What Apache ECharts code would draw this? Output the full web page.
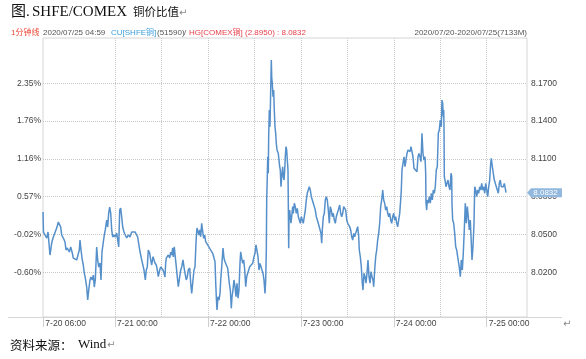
<!DOCTYPE html>
<html><head><meta charset="utf-8">
<script src="https://cdn.jsdelivr.net/npm/echarts@6/dist/echarts.min.js"></script>
<style>html,body{margin:0;padding:0;background:#fff}#c{width:586px;height:359px}</style>
</head><body><div id="c"></div>
<script>
// hours since 2020-07-20 00:00
const hours = [
5.41,5.53,5.92,6.36,6.70,7.21,7.65,8.07,8.50,8.94,9.36,9.61,9.98,10.23,10.65,11.09,11.35,11.68,12.20,12.56,12.97,13.23,13.67,14.11,14.52,14.78,14.96,15.22,15.55,15.81,16.07,16.33,16.69,16.95,17.21,17.54,17.80,18.14,18.40,18.65,18.91,19.27,19.53,19.79,20.13,20.38,20.64,20.98,21.24,21.49,21.86,22.11,22.37,22.63,22.89,23.15,23.41,23.74,24.08,24.44,24.70,24.96,25.21,25.47,25.73,25.99,26.32,26.66,27.02,27.43,27.87,28.31,28.73,
29.17,29.86,30.38,30.79,31.23,31.49,31.83,32.08,32.34,32.60,32.96,33.22,33.48,33.81,34.07,34.33,34.67,34.92,35.18,35.54,35.80,36.06,36.40,36.66,36.91,37.09,37.25,37.51,37.77,38.13,38.38,38.64,38.90,39.06,39.31,39.57,39.83,40.09,40.35,40.71,40.97,41.23,41.56,41.82,42.08,42.41,42.67,42.93,43.29,43.55,43.81,44.14,44.40,44.66,44.84,45.00,45.18,45.44,45.69,45.87,46.13,46.39,46.65,46.91,47.17,47.42,47.68,47.94,48.20,48.46,48.72,48.97,49.23,49.57,49.83,50.01,50.16,50.34,50.60,50.86,51.12,51.30,51.56,51.71,51.89,52.15,52.41,52.74,
53.11,53.52,53.78,54.04,54.22,54.47,54.73,54.99,55.25,55.51,55.77,56.02,56.28,56.46,56.72,56.98,57.24,57.50,57.76,58.01,58.27,58.53,58.79,59.12,59.56,59.90,60.16,60.41,60.67,60.93,61.19,61.45,61.71,61.96,62.22,62.48,62.74,62.92,63.08,63.18,63.33,63.44,63.59,63.69,63.85,64.03,64.21,64.37,64.47,64.62,64.80,64.98,65.14,65.32,65.50,65.66,65.84,66.02,66.17,66.35,66.53,66.69,66.87,67.05,67.31,67.47,67.65,67.83,67.98,68.16,68.34,68.50,68.68,68.76,68.86,68.94,69.12,69.27,69.45,69.63,69.89,70.05,70.31,70.56,70.82,71.08,71.34,71.60,71.86,72.11,72.37,72.63,72.89,73.15,73.41,73.66,73.92,74.18,74.44,74.70,74.96,75.21,75.47,75.73,75.99,76.25,76.50,76.68,
76.94,77.20,77.38,77.54,77.80,78.06,78.31,78.57,78.83,79.09,79.35,79.60,79.86,80.12,80.38,80.64,80.90,81.15,81.41,81.67,82.03,82.29,82.55,82.81,83.06,83.32,83.58,83.84,84.10,84.35,84.61,84.87,85.13,85.39,85.65,85.90,86.16,86.42,86.68,86.94,87.09,87.35,87.61,87.87,88.05,88.31,88.57,88.83,89.08,89.34,89.60,89.86,90.12,90.38,90.63,90.81,91.07,91.33,91.59,91.84,92.10,92.36,92.62,92.88,93.14,93.39,93.65,93.91,94.17,94.43,94.69,94.94,95.20,95.46,95.72,95.98,96.23,96.49,96.75,97.01,97.27,97.53,97.78,97.94,98.12,98.38,98.64,98.90,99.15,99.41,99.67,99.93,100.19,100.44,100.70,
100.96,101.22,101.48,101.73,101.99,102.25,102.51,102.77,103.03,103.28,103.54,103.80,104.06,104.24,104.32,104.50,104.65,104.91,105.17,105.43,105.69,105.95,106.20,106.46,106.72,106.98,107.24,107.50,107.75,108.01,108.27,108.45,108.63,108.79,108.89,108.97,109.05,109.23,109.48,109.74,110.00,110.26,110.52,110.78,110.96,111.03,111.21,111.47,111.73,111.99,112.25,112.50,112.76,113.02,113.18,113.44,113.70,113.95,114.21,114.47,114.73,114.99,115.24,115.50,115.76,116.02,116.20,116.46,116.72,116.90,117.15,117.41,117.67,117.93,118.19,118.45,118.71,118.96,119.22,119.48,119.74,120.00,120.26,120.51,120.77,121.03,121.19,121.45,121.70,121.96,122.22,122.48,122.74,123.00,123.25,123.51,123.77,124.03,124.29,124.55,124.80,124.98
];
// SHFE/COMEX copper price ratio
const ratio = [
8.0678,8.0520,8.0496,8.0472,8.0520,8.0337,8.0432,8.0480,8.0472,8.0551,8.0599,8.0591,8.0559,8.0496,8.0472,8.0440,8.0377,8.0393,8.0361,8.0401,8.0353,8.0313,8.0321,8.0298,8.0313,8.0377,8.0456,8.0377,8.0298,8.0258,8.0194,8.0155,8.0083,7.9980,8.0059,8.0139,8.0163,8.0139,8.0178,8.0083,8.0139,8.0401,8.0298,8.0242,8.0274,8.0139,8.0361,8.0440,8.0496,8.0536,8.0615,8.0559,8.0670,8.0718,8.0670,8.0536,8.0480,8.0496,8.0480,8.0512,8.0456,8.0401,8.0694,8.0710,8.0639,8.0559,8.0520,8.0496,8.0472,8.0496,8.0480,8.0520,8.0512,
8.0520,8.0480,8.0377,8.0313,8.0313,8.0218,8.0139,8.0218,8.0242,8.0377,8.0353,8.0298,8.0258,8.0324,8.0313,8.0274,8.0258,8.0218,8.0165,8.0218,8.0242,8.0234,8.0218,8.0194,8.0163,8.0274,8.0313,8.0321,8.0337,8.0313,8.0361,8.0337,8.0393,8.0321,8.0403,8.0321,8.0244,8.0163,8.0086,8.0163,8.0218,8.0242,8.0298,8.0242,8.0194,8.0139,8.0163,8.0218,8.0234,8.0115,8.0033,8.0139,8.0218,8.0242,8.0377,8.0482,8.0551,8.0522,8.0496,8.0536,8.0482,8.0589,8.0522,8.0469,8.0496,8.0443,8.0456,8.0417,8.0403,8.0390,8.0377,8.0403,8.0351,8.0313,8.0284,8.0115,8.0006,7.9901,8.0006,7.9980,8.0033,8.0139,8.0244,8.0311,8.0393,8.0311,8.0284,8.0271,
8.0232,8.0113,8.0059,7.9914,8.0006,8.0059,8.0139,8.0086,8.0006,8.0113,7.9994,8.0059,8.0271,8.0363,8.0311,8.0271,8.0298,8.0218,8.0086,8.0165,8.0192,8.0218,8.0244,8.0258,8.0271,8.0324,8.0351,8.0417,8.0430,8.0324,8.0218,8.0271,8.0244,8.0218,8.0192,8.0139,8.0033,8.0139,8.0377,8.0774,8.0959,8.1117,8.0986,8.1276,8.1488,8.1355,8.1647,8.1885,8.1752,8.1700,8.1594,8.1647,8.1488,8.1355,8.1303,8.1224,8.1171,8.1171,8.1144,8.1091,8.1038,8.1012,8.0879,8.0959,8.1038,8.0959,8.0932,8.1012,8.1117,8.1197,8.1171,8.1091,8.1012,8.0748,8.0390,8.0615,8.0694,8.0641,8.0589,8.0641,8.0721,8.0668,8.0748,8.0721,8.0668,8.0708,8.0641,8.0615,8.0589,8.0641,8.0615,8.0589,8.0641,8.0694,8.0774,8.0827,8.0853,8.0879,8.0853,8.0800,8.0774,8.0748,8.0721,8.0694,8.0641,8.0615,8.0589,8.0602,
8.0589,8.0509,8.0430,8.0536,8.0641,8.0668,8.0774,8.0800,8.0774,8.0694,8.0589,8.0721,8.0694,8.0641,8.0668,8.0615,8.0589,8.0641,8.0668,8.0694,8.0734,8.0668,8.0641,8.0668,8.0721,8.0734,8.0694,8.0615,8.0589,8.0575,8.0562,8.0536,8.0482,8.0456,8.0509,8.0482,8.0509,8.0536,8.0562,8.0482,8.0377,8.0324,8.0244,8.0113,8.0059,8.0192,8.0165,8.0113,8.0192,8.0298,8.0165,8.0113,8.0205,8.0165,8.0139,8.0086,8.0218,8.0324,8.0377,8.0456,8.0509,8.0589,8.0721,8.0774,8.0853,8.0774,8.0748,8.0694,8.0721,8.0668,8.0641,8.0668,8.0615,8.0589,8.0641,8.0668,8.0615,8.0641,8.0589,8.0562,8.0615,8.0668,8.0774,8.0853,8.1012,8.1065,8.1117,8.1038,8.1091,8.1144,8.1171,8.1184,8.1157,8.1197,8.1210,
8.1117,8.1025,8.1012,8.1025,8.0998,8.1117,8.1144,8.1117,8.1078,8.1303,8.1144,8.1091,8.1117,8.0986,8.0748,8.0694,8.0774,8.0748,8.0800,8.0748,8.0827,8.0774,8.0853,8.0827,8.0879,8.1012,8.1038,8.1303,8.1329,8.1409,8.1355,8.1567,8.1541,8.1435,8.1488,8.1355,8.0959,8.0932,8.0879,8.0906,8.0932,8.0879,8.0853,8.0986,8.0959,8.0748,8.0615,8.0589,8.0509,8.0403,8.0377,8.0324,8.0271,8.0218,8.0165,8.0298,8.0218,8.0351,8.0536,8.0748,8.0589,8.0721,8.0641,8.0536,8.0615,8.0430,8.0298,8.0403,8.0589,8.0879,8.0853,8.0800,8.0853,8.0827,8.0879,8.0853,8.0906,8.0853,8.0879,8.0827,8.0906,8.0853,8.0800,8.0879,8.0932,8.1065,8.1105,8.1038,8.0986,8.0932,8.0906,8.0879,8.0853,8.0827,8.0906,8.0932,8.0879,8.0893,8.0879,8.0906,8.0866,8.0832
];
const lastValue = 8.0832;
const ratioTicks = [8.02, 8.05, 8.08, 8.11, 8.14, 8.17];
const pctTickLabels = ['-0.60%', '-0.02%', '0.57%', '1.16%', '1.76%', '2.35%'];
const xTickHours = [5.5, 24, 48, 72, 96, 120];
const xTickLabels = ['7-20 06:00', '7-21 00:00', '7-22 00:00', '7-23 00:00', '7-24 00:00', '7-25 00:00'];
const xGridHours = [24, 36, 48, 60, 72, 84, 96, 108, 120];

const sans = '"Liberation Sans", Arial, "Noto Sans CJK SC", sans-serif';
const serif = '"Liberation Serif", "Noto Sans CJK SC", serif';
const xMin = 5.405, xMax = 130.405, yMin = 7.98452, yMax = 8.20595;

const chart = echarts.init(document.getElementById('c'));
const pick = (arr, labels, v) => { const i = arr.findIndex(t => Math.abs(t - v) < 1e-6); return i < 0 ? '' : labels[i]; };
chart.setOption({
  animation: false,
  grid: { left: 43, right: 59, top: 38, bottom: 42, show: true, borderColor: '#d6d6d6', borderWidth: 1 },
  xAxis: [
    { type: 'value', min: xMin, max: xMax, position: 'bottom',
      axisLine: { show: false },
      axisTick: { show: true, customValues: xTickHours, length: 10, lineStyle: { color: '#cfcfcf' } },
      axisLabel: { customValues: xTickHours, formatter: v => pick(xTickHours, xTickLabels, v), align: 'left', margin: 2, padding: [0, 0, 0, 2], fontSize: 8.5, color: '#444', fontFamily: sans },
      splitLine: { show: false } },
    { type: 'value', min: xMin, max: xMax, position: 'top',
      axisLine: { show: false }, axisLabel: { show: false },
      axisTick: { show: false, customValues: xGridHours },
      splitLine: { show: true, lineStyle: { type: 'dotted', color: '#c8c8c8', width: 1 } } }
  ],
  yAxis: [
    { type: 'value', min: yMin, max: yMax, position: 'right',
      axisLine: { show: false },
      axisTick: { show: false, customValues: ratioTicks },
      axisLabel: { customValues: ratioTicks, formatter: v => v.toFixed(4), margin: 4, fontSize: 8.5, color: '#444', fontFamily: sans },
      splitLine: { show: true, lineStyle: { type: 'dotted', color: '#c8c8c8', width: 1 } } },
    { type: 'value', min: yMin, max: yMax, position: 'left',
      axisLine: { show: false },
      axisTick: { show: false, customValues: ratioTicks },
      axisLabel: { customValues: ratioTicks, formatter: v => pick(ratioTicks, pctTickLabels, v), margin: 2, fontSize: 8.5, color: '#444', fontFamily: sans },
      splitLine: { show: false } }
  ],
  series: [{
    type: 'line', xAxisIndex: 0, yAxisIndex: 0, showSymbol: false, symbol: 'none',
    data: hours.map((h, i) => [h, ratio[i]]),
    lineStyle: { color: '#5690cb', width: 1.5 },
    markPoint: {
      symbol: 'path://M0,5 L4,0 L35,0 L35,10 L4,10 Z', symbolSize: [35, 9], symbolKeepAspect: false,
      symbolOffset: [17.5, 0],
      itemStyle: { color: '#92b8de' },
      label: { show: true, position: 'inside', formatter: lastValue.toFixed(4), color: '#fff', fontSize: 8, fontFamily: sans, offset: [1, 0] },
      data: [{ coord: [xMax, lastValue] }]
    }
  }],
  graphic: [
    { type: 'text', x: 11, y: 12, style: { text: '图.', font: '15px ' + serif, fill: '#111', verticalAlign: 'middle' } },
    { type: 'text', x: 32, y: 12, style: { text: 'SHFE/COMEX', font: '15px ' + serif, fill: '#111', verticalAlign: 'middle' } },
    { type: 'text', x: 133, y: 12, style: { text: '铜价比值', font: '11.5px "Noto Sans CJK SC", sans-serif', fill: '#111', verticalAlign: 'middle' } },
    { type: 'text', x: 179, y: 13, style: { text: '↵', font: '10px "DejaVu Sans", sans-serif', fill: '#888', verticalAlign: 'middle' } },
    { type: 'text', x: 11, y: 33, style: { text: '1分钟线', font: '8px ' + sans, fill: '#ee4433', verticalAlign: 'middle' } },
    { type: 'text', x: 43, y: 33, style: { text: '2020/07/25 04:59', font: '8px ' + sans, fill: '#555', verticalAlign: 'middle' } },
    { type: 'text', x: 111, y: 33, style: { text: 'CU[SHFE铜]', font: '8px ' + sans, fill: '#3d9fdc', verticalAlign: 'middle' } },
    { type: 'text', x: 157, y: 33, style: { text: '(51590)', font: '8px ' + sans, fill: '#555', verticalAlign: 'middle' } },
    { type: 'text', x: 184, y: 33, style: { text: '/', font: '8px ' + sans, fill: '#555', verticalAlign: 'middle' } },
    { type: 'text', x: 189, y: 33, style: { text: 'HG[COMEX铜] (2.8950) : 8.0832', font: '8px ' + sans, fill: '#e8404a', verticalAlign: 'middle' } },
    { type: 'text', x: 527, y: 33, style: { text: '2020/07/20-2020/07/25(7133M)', font: '8px ' + sans, fill: '#555', align: 'right', verticalAlign: 'middle' } },
    { type: 'line', shape: { x1: 8, y1: 317.5, x2: 562, y2: 317.5 }, style: { stroke: '#d6d6d6', lineWidth: 1 } },
    { type: 'text', x: 563, y: 324, style: { text: '↵', font: '10px "DejaVu Sans", sans-serif', fill: '#888', verticalAlign: 'middle' } },
    { type: 'text', x: 10, y: 345, style: { text: '资料来源：', font: '12.5px "Noto Sans CJK SC", sans-serif', fill: '#111', verticalAlign: 'middle' } },
    { type: 'text', x: 78, y: 345, style: { text: 'Wind', font: '13px ' + serif, fill: '#111', verticalAlign: 'middle' } },
    { type: 'text', x: 107, y: 345, style: { text: '↵', font: '10px "DejaVu Sans", sans-serif', fill: '#888', verticalAlign: 'middle' } }
  ]
});
</script></body></html>
